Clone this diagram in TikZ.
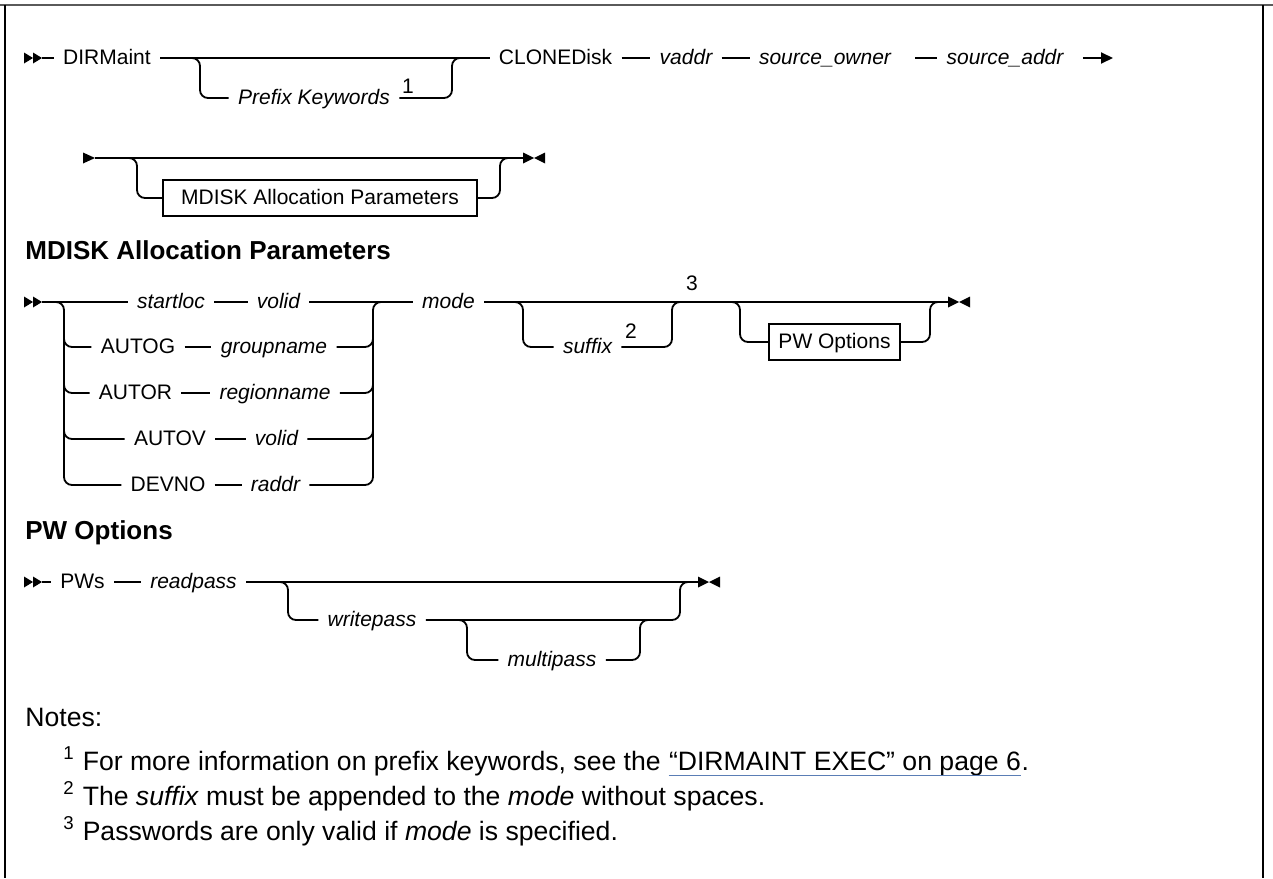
\documentclass[tikz,border=0pt]{standalone}
\usepackage{fontspec}
\setmainfont{Liberation Sans}
\usetikzlibrary{arrows.meta}
\definecolor{linkblue}{HTML}{5A7DB5}
\definecolor{framegray}{HTML}{5A5A5A}
\begin{document}
\begin{tikzpicture}[x=0.5pt,y=-0.5pt,
  rr/.style={line width=0.9pt, rounded corners=4pt},
  tok/.style={inner xsep=4.5pt, inner ysep=0pt, text height=7pt, text depth=1pt, font=\fontsize{10.5}{12}\selectfont},
  vtok/.style={tok, font=\fontsize{10.5}{12}\selectfont\itshape},
  boxtok/.style={draw, line width=0.9pt, inner sep=0pt, minimum height=18pt, text height=7pt, text depth=1pt, font=\fontsize{10.5}{12}\selectfont},
  supnum/.style={inner sep=0pt, font=\fontsize{10.5}{12}\selectfont},
  head/.style={anchor=west, inner sep=0pt, font=\fontsize{13}{15}\selectfont\bfseries},
  note/.style={anchor=base west, inner sep=0pt, font=\fontsize{13.3}{16}\selectfont},
  tip/.style={fill=black}
]
\useasboundingbox (0,0) rectangle (1273,878);
% frame
\draw[line width=1pt, framegray] (0,5) -- (1273,5);
\draw[line width=1pt] (5,5) -- (5,878);
\draw[line width=0.8pt] (1263,5) -- (1263,878);

% ---------- Row 1 ----------
\fill[tip] (24,52.5) -- (33,58) -- (24,63.5) -- cycle;
\fill[tip] (33,52.5) -- (42,58) -- (33,63.5) -- cycle;
\coordinate (s1) at (42,58);
\node[tok] (dirm) at (107,58) {DIRMaint};
\node[tok] (clone) at (555.5,58) {CLONEDisk};
\node[vtok] (pk) at (314,98) {Prefix Keywords};
\node[supnum] (n1) at (408,86) {1};
\node[vtok] (vaddr) at (686,58) {vaddr};
\node[vtok] (sown) at (825,58) {source\_owner};
\node[vtok] (saddr) at (1005,58) {source\_addr};
\coordinate (e1) at (1113,58);
\coordinate (b1a) at (190,58);
\coordinate (b1b) at (462,58);
\draw[rr] (s1) -- (dirm);
\draw[rr] (dirm) -- (clone);
\draw[rr] (b1a) -| (200,98) -- (pk);
\draw[rr] (pk) -- (452,98) |- (b1b);
\draw[rr] (clone) -- (vaddr);
\draw[rr] (vaddr) -- (sown);
\draw[rr, shorten <=7.5pt] (sown) -- (saddr);
\draw[line width=0.9pt, shorten <=5pt, -{Triangle[length=6pt,width=5.5pt]}] (saddr) -- (e1);

% ---------- Row 2 ----------
\fill[tip] (83,152.5) -- (95,158) -- (83,163.5) -- cycle;
\coordinate (s2) at (95,158);
\fill[tip] (523,152.5) -- (534,158) -- (523,163.5) -- cycle;
\fill[tip] (545,152.5) -- (534,158) -- (545,163.5) -- cycle;
\coordinate (e2) at (523,158);
\node[boxtok, minimum width=157pt] (mdbox) at (320,198) {MDISK Allocation Parameters};
\coordinate (b2a) at (129,158);
\coordinate (b2b) at (510,158);
\draw[rr] (s2) -- (e2);
\draw[rr] (b2a) -| (137,198) -- (mdbox);
\draw[rr] (mdbox) -- (500,198) |- (b2b);

% ---------- MDISK Allocation Parameters ----------
\node[head] (h1) at (25,250) {MDISK Allocation Parameters};

\fill[tip] (24,296.5) -- (33,302) -- (24,307.5) -- cycle;
\fill[tip] (33,296.5) -- (42,302) -- (33,307.5) -- cycle;
\coordinate (s3) at (42,302);

\node[vtok] (startloc) at (171,302) {startloc};
\node[vtok] (volida) at (278.5,302) {volid};
\node[vtok] (mode) at (448.5,302) {mode};
\node[tok] (autog) at (138,347) {AUTOG};
\node[vtok] (group) at (274,347) {groupname};
\node[tok] (autor) at (135.5,393) {AUTOR};
\node[vtok] (region) at (275,393) {regionname};
\node[tok] (autov) at (170,439) {AUTOV};
\node[vtok] (volidb) at (276.5,439) {volid};
\node[tok] (devno) at (168,485) {DEVNO};
\node[vtok] (raddr) at (275.5,485) {raddr};

\coordinate (l3a) at (54,302);
\coordinate (r3a) at (385,302);
\draw[rr] (s3) -- (startloc);
\draw[rr] (startloc) -- (volida);
\draw[rr] (volida) -- (mode);
\draw[rr] (l3a) -| (64,485) -- (devno.west);
\draw[rr] (64,330) |- (autog.west);
\draw[rr] (64,376) |- (autor.west);
\draw[rr] (64,422) |- (autov.west);
\draw[rr] (autog) -- (group);
\draw[rr] (autor) -- (region);
\draw[rr] (autov) -- (volidb);
\draw[rr] (devno) -- (raddr);
\draw[rr] (raddr.east) -| (373,302) -- (r3a);
\draw[rr] (group.east) -| (373,330);
\draw[rr] (region.east) -| (373,376);
\draw[rr] (volidb.east) -| (373,422);

% mode -> end
\fill[tip] (948,296.5) -- (959,302) -- (948,307.5) -- cycle;
\fill[tip] (970,296.5) -- (959,302) -- (970,307.5) -- cycle;
\coordinate (e3) at (948,302);
\draw[rr] (mode) -- (e3);

\node[vtok] (suffix) at (587.5,347) {suffix};
\node[supnum] (n2) at (631,331) {2};
\node[supnum] (n3) at (692,283) {3};
\coordinate (sfa) at (514,302);
\coordinate (sfb) at (682,302);
\draw[rr] (sfa) -| (523,347) -- (suffix);
\draw[rr] (suffix) -- (672,347) |- (sfb);

\node[boxtok, minimum width=65.5pt] (pwbox) at (834.5,342) {PW Options};
\coordinate (pwa) at (731,302);
\coordinate (pwb) at (940,302);
\draw[rr] (pwa) -| (740,342) -- (pwbox);
\draw[rr] (pwbox) -- (930,342) |- (pwb);

% ---------- PW Options ----------
\node[head] (h2) at (25,533) {PW Options};

\fill[tip] (24,576.5) -- (33,582) -- (24,587.5) -- cycle;
\fill[tip] (33,576.5) -- (42,582) -- (33,587.5) -- cycle;
\coordinate (s4) at (42,582);
\node[tok] (pws) at (82.5,582) {PWs};
\node[vtok] (readpass) at (193.5,582) {readpass};
\fill[tip] (698,576.5) -- (709,582) -- (698,587.5) -- cycle;
\fill[tip] (720,576.5) -- (709,582) -- (720,587.5) -- cycle;
\coordinate (e4) at (698,582);
\draw[rr] (s4) -- (pws);
\draw[rr] (pws) -- (readpass);
\draw[rr] (readpass) -- (e4);

\node[vtok] (writepass) at (372,620) {writepass};
\node[vtok] (multipass) at (552,660) {multipass};
\coordinate (wpa) at (279,582);
\coordinate (wpb) at (690,582);
\coordinate (mpa) at (458,620);
\coordinate (mpb) at (650,620);
\draw[rr] (wpa) -| (288,620) -- (writepass);
\draw[rr] (writepass.east) -| (680,582) -- (wpb);
\draw[rr] (mpa) -| (467,660) -- (multipass);
\draw[rr] (multipass.east) -| (640,620) -- (mpb);

% ---------- Notes ----------
\node[note] (notes) at (25,726) {Notes:};
\node[note] (n1a) at (63,770) {\textsuperscript{1}\hspace{4pt}For more information on prefix keywords, see the};
\node[note] (n1b) at ([xshift=3.7pt]n1a.base east) {“DIRMAINT EXEC” on page 6};
\node[note] (n1c) at (n1b.base east) {.};
\draw[linkblue, line width=0.7pt] ([yshift=-2.6pt]n1b.base west) -- ([yshift=-2.6pt]n1b.base east);
\node[note] (n2t) at (63,805) {\textsuperscript{2}\hspace{4pt}The \textit{suffix} must be appended to the \textit{mode} without spaces.};
\node[note] (n3t) at (63,840) {\textsuperscript{3}\hspace{4pt}Passwords are only valid if \textit{mode} is specified.};
\end{tikzpicture}
\end{document}
